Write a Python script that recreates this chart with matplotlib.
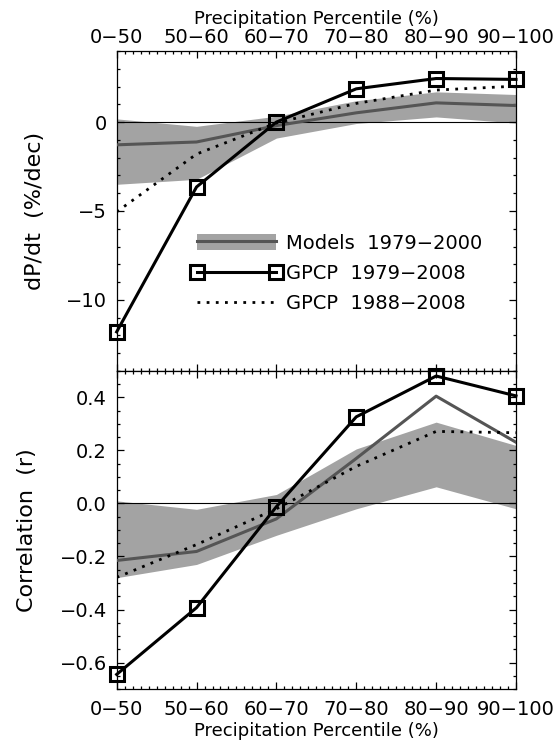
import numpy as np
import matplotlib
matplotlib.use("Agg")
import matplotlib.pyplot as plt
from matplotlib.patches import Patch
from matplotlib.lines import Line2D
from matplotlib.legend_handler import HandlerLine2D
from matplotlib.ticker import MultipleLocator

# percentile bins
bins = ["0\u221250", "50\u221260", "60\u221270", "70\u221280", "80\u221290", "90\u2212100"]

# trend dP/dt (%/dec)
trend_gpcp79 = [-11.8, -3.65, 0.0, 1.87, 2.45, 2.4]
trend_gpcp88 = [-5.05, -1.8, -0.05, 1.05, 1.8, 2.02]
trend_model = [-1.28, -1.12, -0.2, 0.52, 1.08, 0.93]
trend_model_hi = [0.18, -0.24, 0.33, 1.2, 1.7, 1.55]
trend_model_lo = [-3.5, -3.22, -0.9, -0.08, 0.29, -0.05]

# correlation (r)
corr_gpcp79 = [-0.645, -0.393, -0.012, 0.327, 0.481, 0.406]
corr_gpcp88 = [-0.279, -0.155, -0.02, 0.14, 0.272, 0.267]
corr_model = [-0.215, -0.181, -0.058, 0.17, 0.405, 0.231]
corr_model_hi = [0.01, -0.022, 0.034, 0.206, 0.307, 0.219]
corr_model_lo = [-0.28, -0.23, -0.12, -0.02, 0.063, -0.02]

band_col = "#a3a3a3"
mean_col = "#555555"
fs = 14

plt.rcParams["font.family"] = "DejaVu Sans"
plt.rcParams["font.size"] = fs

fig = plt.figure(figsize=(5.54, 7.46), dpi=100)
ax1 = fig.add_axes([0.2106, 0.5027, 0.7208, 0.4290])
ax2 = fig.add_axes([0.2106, 0.0764, 0.7208, 0.4263])

x = np.arange(len(bins))


def draw(ax, lo, hi, mean, g88, g79):
    ax.fill_between(x, lo, hi, color=band_col, lw=0, zorder=1)
    ax.axhline(0, color="black", lw=0.8, zorder=2)
    ax.plot(x, mean, color=mean_col, lw=2.2, zorder=3)
    ax.plot(x, g88, color="black", lw=2.0, ls=(0, (1, 2.3)), zorder=4)
    ax.plot(x, g79, color="black", lw=2.2, marker="s", ms=10, mfc="none",
            mec="black", mew=2.2, zorder=5, clip_on=False)
    ax.set_xlim(0, 5)
    ax.set_xticks(x)
    ax.set_xticklabels(bins)
    ax.xaxis.set_minor_locator(MultipleLocator(0.1))
    ax.tick_params(which="both", direction="in", top=True, right=True, width=0.9)
    ax.tick_params(which="major", length=5)
    ax.tick_params(which="minor", length=2.5)
    ax.tick_params(axis="y", pad=7)
    for s in ax.spines.values():
        s.set_linewidth(0.9)


draw(ax1, trend_model_lo, trend_model_hi, trend_model, trend_gpcp88, trend_gpcp79)
draw(ax2, corr_model_lo, corr_model_hi, corr_model, corr_gpcp88, corr_gpcp79)

# top panel
ax1.set_ylim(-14, 4)
ax1.yaxis.set_major_locator(MultipleLocator(5))
ax1.yaxis.set_minor_locator(MultipleLocator(1))
ax1.tick_params(axis="x", labeltop=True, labelbottom=False, pad=2.5)
ax1.xaxis.set_label_position("top")
ax1.set_xlabel("Precipitation Percentile (%)", fontsize=13, labelpad=3)
ax1.set_ylabel("dP/dt  (%/dec)", fontsize=16)
ax1.yaxis.set_label_coords(-0.18, 0.5)

# bottom panel
ax2.set_ylim(-0.7, 0.5)
ax2.yaxis.set_major_locator(MultipleLocator(0.2))
ax2.yaxis.set_minor_locator(MultipleLocator(0.05))
ax2.yaxis.set_major_formatter(lambda v, p: f"{v:.1f}".replace("-", "\u2212"))
ax2.tick_params(axis="x", pad=8)
ax2.set_xlabel("Precipitation Percentile (%)", fontsize=13, labelpad=2)
ax2.set_ylabel("Correlation  (r)", fontsize=16)
ax2.yaxis.set_label_coords(-0.2, 0.5)

# legend
h_model = (Patch(facecolor=band_col, edgecolor="none"),
           Line2D([], [], color=mean_col, lw=2.2))
h79 = Line2D([], [], color="black", lw=2.2, marker="s", ms=10, mfc="none",
             mec="black", mew=2.2)
h88 = Line2D([], [], color="black", lw=2.0, ls=(0, (1, 2.3)))
ax1.legend([h_model, h79, h88],
           ["Models  1979\u22122000", "GPCP  1979\u22122008", "GPCP  1988\u22122008"],
           loc="upper left", bbox_to_anchor=(0.2, 0.429), frameon=False,
           borderpad=0, borderaxespad=0, handlelength=4.11, handleheight=0.95,
           handletextpad=0.5, labelspacing=0.58,
           handler_map={h79: HandlerLine2D(numpoints=2, marker_pad=0)})

fig.savefig("out.png", dpi=100)
